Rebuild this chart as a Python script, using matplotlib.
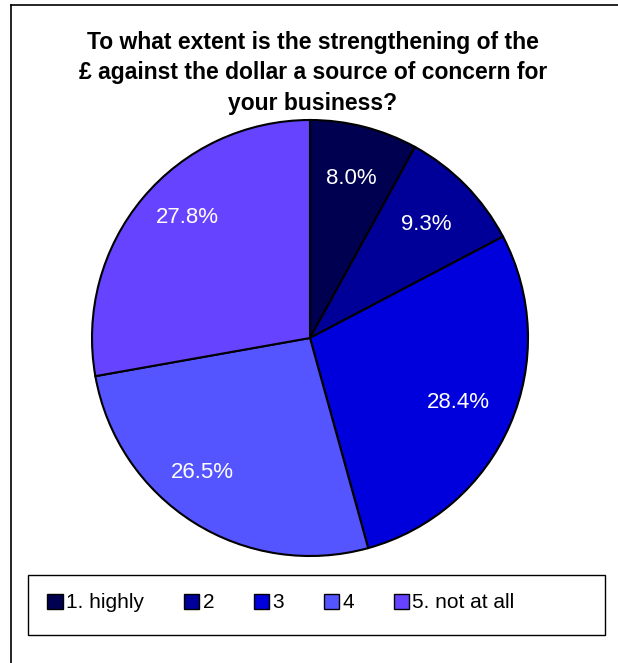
import matplotlib
matplotlib.use("Agg")
import numpy as np
import matplotlib.pyplot as plt
from matplotlib.patches import Rectangle
from matplotlib.lines import Line2D

plt.rcParams['font.family'] = ['Liberation Sans', 'DejaVu Sans']

title = "To what extent is the strengthening of the\n£ against the dollar a source of concern for\nyour business?"
categories = ["1. highly", "2", "3", "4", "5. not at all"]
values = [8.0, 9.3, 28.4, 26.5, 27.8]
colors = ["#000050", "#000099", "#0000DD", "#5555FF", "#6644FF"]

# label placement tweaks (radius fraction, angle offset in degrees)
label_radius = [0.755, 0.745, 0.74, 0.79, 0.79]
label_angle_offset = [0, 0, 0, -6.5, -4.5]

W, H = 618, 663
fig = plt.figure(figsize=(W / 100, H / 100), dpi=100)

# outer frame (left and top edges only)
fig.add_artist(Line2D([11 / W, 11 / W], [1 - 5 / H, 0], color="black", lw=1.2))
fig.add_artist(Line2D([11 / W, 1.0], [1 - 5 / H, 1 - 5 / H], color="black", lw=1.2))

fig.text(313 / W, 1 - 73 / H, title, ha="center", va="center", fontsize=16.5,
         fontweight="bold", linespacing=1.4)

cx, cy, r = 310, 338, 218
ax = fig.add_axes([(cx - r) / W, 1 - (cy + r) / H, 2 * r / W, 2 * r / H])
wedges, texts, autotexts = ax.pie(
    values, colors=colors, startangle=90, counterclock=False,
    autopct="%.1f%%", pctdistance=0.74,
    wedgeprops=dict(edgecolor="black", linewidth=1.5),
    textprops=dict(color="white", fontsize=16))
for w, t, rad, da in zip(wedges, autotexts, label_radius, label_angle_offset):
    mid = np.deg2rad((w.theta1 + w.theta2) / 2 + da)
    t.set_position((rad * np.cos(mid), rad * np.sin(mid)))
ax.set_aspect("equal")
ax.set_xlim(-1, 1)
ax.set_ylim(-1, 1)
ax.axis("off")

# legend box
lx0, ly0, lx1, ly1 = 28, 575, 605, 635
fig.add_artist(Rectangle((lx0 / W, 1 - ly1 / H), (lx1 - lx0) / W, (ly1 - ly0) / H,
                         transform=fig.transFigure, fill=False, edgecolor="black", lw=1.0))
leg = fig.legend(wedges, categories, loc="center", ncol=5,
                 bbox_to_anchor=(281 / W, 1 - 603 / H), frameon=False,
                 fontsize=15, handlelength=0.75, handleheight=0.75,
                 handletextpad=0.15, columnspacing=1.9)
for h in leg.legend_handles:
    h.set_linewidth(1.0)
    h.set_edgecolor("black")

fig.savefig("out.png", dpi=100)
